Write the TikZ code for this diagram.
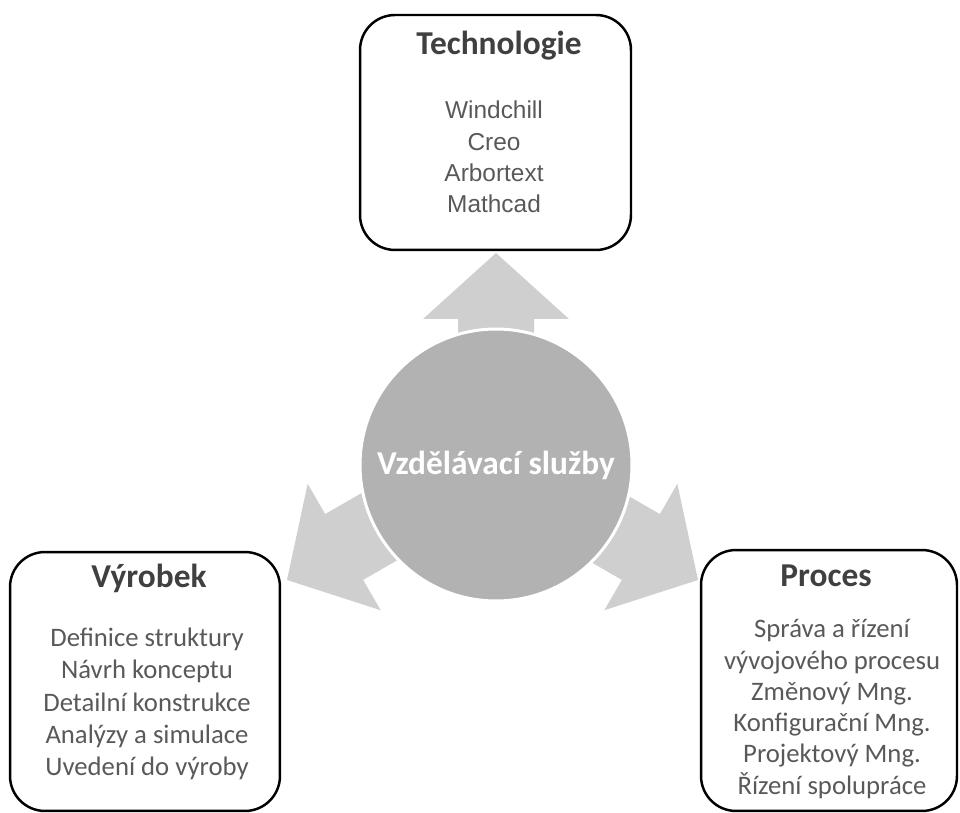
\documentclass[tikz,border=0pt]{standalone}
\usepackage{fontspec}
\setmainfont{Carlito}
\newfontfamily\arialfont{Liberation Sans}
\begin{document}
\begin{tikzpicture}[x=0.02cm,y=-0.02cm]
  \tikzset{
    box/.style={draw, line width=1.4pt, rounded corners=0.7cm, inner sep=0pt},
    title/.style={anchor=base, text=black!75, font=\fontsize{19}{23}\selectfont\bfseries},
    items/.style={align=center, inner sep=0pt, text=black!65},
    blockarrow/.style={fill=black!19},
  }
  \useasboundingbox (0,0) rectangle (960,813);
  % block arrows pointing out of the centre
  \foreach \ang/\tx/\ty in {90/496/253, 210/287/580, 330/698/580}
    \fill[blockarrow, shift={(\tx,\ty)}, rotate=\ang]
      (0,0) -- (-66,73) -- (-66,38) -- (-170,38) -- (-170,-38) -- (-66,-38) -- (-66,-73) -- cycle;
  \node[circle, fill=black!30, draw=white, line width=1.7pt, minimum size=5.44cm, inner sep=0pt,
        text=white, font=\fontsize{19}{23}\selectfont\bfseries] (center) at (496,465) {Vzdělávací služby};
  % boxes
  \node[box, minimum width=5.42cm, minimum height=4.7cm] (tech) at (495.5,132.5) {};
  \node[box, minimum width=5.4cm, minimum height=5.18cm] (vyrobek) at (145,681.5) {};
  \node[box, minimum width=5.12cm, minimum height=5.22cm] (proces) at (829,680.5) {};
  \node[title] (techT) at (499,55) {Technologie};
  \node[title] (vyrobekT) at (149,588) {Výrobek};
  \node[title] (procesT) at (826,587) {Proces};
  \node[items, font=\arialfont\fontsize{13.9}{17.8}\selectfont] (techI) at (494,157)
    {Windchill\\Creo\\Arbortext\\Mathcad};
  \node[items, font=\fontsize{15.2}{18.3}\selectfont] (vyrobekI) at (147,704)
    {Definice struktury\\Návrh konceptu\\Detailní konstrukce\\Analýzy a simulace\\Uvedení do výroby};
  \node[items, font=\fontsize{15.2}{17.8}\selectfont] (procesI) at (832,709)
    {Správa a řízení\\vývojového procesu\\Změnový Mng.\\Konfigurační Mng.\\Projektový Mng.\\Řízení spolupráce};
\end{tikzpicture}
\end{document}
